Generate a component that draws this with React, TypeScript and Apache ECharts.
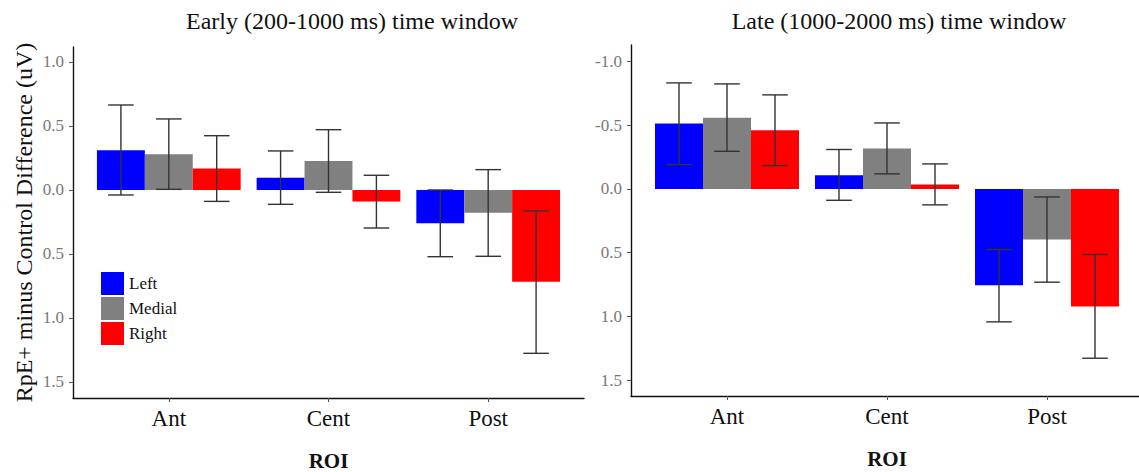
import React, { useEffect, useRef } from "react";
import * as echarts from "echarts";

const roiLabels = ["Ant", "Cent", "Post"];
const groups = ["Left", "Medial", "Right"];
const groupColors = ["#0000FF", "#808080", "#FF0000"];
const yTickValues = [-1, -0.5, 0, 0.5, 1, 1.5];

// Early (200-1000 ms): means per group across Ant, Cent, Post
const earlyLeft = [-0.31, -0.096, 0.26];
const earlyMedial = [-0.279, -0.227, 0.177];
const earlyRight = [-0.167, 0.089, 0.716];
const earlyLeftLo = [-0.664, -0.305, 0.0];
const earlyLeftHi = [0.039, 0.112, 0.521];
const earlyMedialLo = [-0.555, -0.471, -0.159];
const earlyMedialHi = [-0.005, 0.018, 0.518];
const earlyRightLo = [-0.424, -0.115, 0.164];
const earlyRightHi = [0.089, 0.297, 1.276];

// Late (1000-2000 ms)
const lateLeft = [-0.513, -0.107, 0.755];
const lateMedial = [-0.557, -0.316, 0.397];
const lateRight = [-0.46, -0.034, 0.922];
const lateLeftLo = [-0.831, -0.309, 0.475];
const lateLeftHi = [-0.191, 0.089, 1.042];
const lateMedialLo = [-0.823, -0.517, 0.063];
const lateMedialHi = [-0.295, -0.118, 0.731];
const lateRightLo = [-0.737, -0.196, 0.514];
const lateRightHi = [-0.183, 0.125, 1.327];

const FONT = "'Liberation Serif', 'Times New Roman', serif";
const offsets = [-0.3, 0, 0.3];
const BAR_HALF = 0.15;
const CAP_HALF = 0.08;

function barSeries(name: string, k: number, values: number[], axisIdx: number) {
  return {
    type: "custom",
    name,
    xAxisIndex: axisIdx,
    yAxisIndex: axisIdx,
    color: groupColors[k],
    itemStyle: { color: groupColors[k] },
    data: values.map((v, i) => [i + 1, v]),
    renderItem: (params: any, api: any) => {
      const x = api.value(0) + offsets[k];
      const v = api.value(1);
      const p0 = api.coord([x - BAR_HALF, 0]);
      const p1 = api.coord([x + BAR_HALF, v]);
      return {
        type: "rect",
        shape: {
          x: Math.min(p0[0], p1[0]),
          y: Math.min(p0[1], p1[1]),
          width: Math.abs(p1[0] - p0[0]),
          height: Math.abs(p1[1] - p0[1]),
        },
        style: { fill: groupColors[k] },
      };
    },
    z: 2,
  };
}

function errSeries(k: number, lo: number[], hi: number[], axisIdx: number) {
  return {
    type: "custom",
    name: "err" + axisIdx + "_" + k,
    xAxisIndex: axisIdx,
    yAxisIndex: axisIdx,
    data: lo.map((l, i) => [i + 1, l, hi[i]]),
    renderItem: (params: any, api: any) => {
      const x = api.value(0) + offsets[k];
      const a = api.coord([x, api.value(1)]);
      const b = api.coord([x, api.value(2)]);
      const al = api.coord([x - CAP_HALF, api.value(1)]);
      const ar = api.coord([x + CAP_HALF, api.value(1)]);
      const bl = api.coord([x - CAP_HALF, api.value(2)]);
      const br = api.coord([x + CAP_HALF, api.value(2)]);
      const style = { stroke: "#333333", lineWidth: 1.4 };
      return {
        type: "group",
        children: [
          { type: "line", shape: { x1: a[0], y1: a[1], x2: b[0], y2: b[1] }, style },
          { type: "line", shape: { x1: al[0], y1: al[1], x2: ar[0], y2: ar[1] }, style },
          { type: "line", shape: { x1: bl[0], y1: bl[1], x2: br[0], y2: br[1] }, style },
        ],
      };
    },
    z: 3,
  };
}

function xAxisCfg(gridIndex: number) {
  return {
    type: "value",
    gridIndex,
    min: 0.4,
    max: 3.6,
    axisLine: { show: true, onZero: false, lineStyle: { color: "#111", width: 1.4 } },
    axisTick: { show: true, customValues: [1, 2, 3], length: 4, lineStyle: { color: "#555" } },
    axisLabel: {
      customValues: [1, 2, 3],
      formatter: (v: number) => roiLabels[Math.round(v) - 1],
      fontSize: 23,
      color: "#111",
      fontFamily: FONT,
      margin: 9,
    },
    splitLine: { show: false },
    name: "ROI",
    nameLocation: "middle",
    nameGap: 52,
    nameTextStyle: { fontSize: 21, fontWeight: "bold", color: "#111", fontFamily: FONT },
  };
}

function yAxisCfg(gridIndex: number, min: number, max: number, absLabels: boolean, withName: boolean) {
  return {
    type: "value",
    gridIndex,
    inverse: true,
    min,
    max,
    axisLine: { show: true, onZero: false, lineStyle: { color: "#111", width: 1.4 } },
    axisTick: { show: true, customValues: yTickValues, length: 4, lineStyle: { color: "#555" } },
    axisLabel: {
      customValues: yTickValues,
      formatter: (v: number) => (absLabels ? Math.abs(v).toFixed(1) : v.toFixed(1)),
      fontSize: 17,
      color: "#777777",
      fontFamily: FONT,
      margin: 9,
    },
    splitLine: { show: false },
    name: withName ? "RpE+ minus Control Difference (uV)" : "",
    nameLocation: "middle",
    nameRotate: 90,
    nameGap: 37,
    nameTextStyle: { fontSize: 24, color: "#111", fontFamily: FONT },
  };
}

export default function App() {
  const ref = useRef<HTMLDivElement>(null);
  useEffect(() => {
    if (!ref.current) return;
    const chart = echarts.init(ref.current, null, { renderer: "svg" });
    const option: any = {
      animation: false,
      backgroundColor: "#ffffff",
      title: [
        {
          text: "Early (200-1000 ms) time window",
          left: 347,
          top: 4,
          textAlign: "center",
          textStyle: { fontSize: 24, fontWeight: "normal", color: "#111", fontFamily: FONT },
        },
        {
          text: "Late (1000-2000 ms) time window",
          left: 894,
          top: 4,
          textAlign: "center",
          textStyle: { fontSize: 24, fontWeight: "normal", color: "#111", fontFamily: FONT },
        },
      ],
      legend: {
        data: groups,
        orient: "vertical",
        left: 101,
        top: 272,
        padding: 0,
        itemWidth: 23,
        itemHeight: 23,
        itemGap: 2,
        icon: "rect",
        selectedMode: false,
        textStyle: { fontSize: 17, color: "#111", fontFamily: FONT },
      },
      grid: [
        { left: 73, top: 47, width: 511, height: 351, outerBoundsMode: "none", containLabel: false },
        { left: 631, top: 45, width: 512, height: 351, outerBoundsMode: "none", containLabel: false },
      ],
      xAxis: [xAxisCfg(0), xAxisCfg(1)],
      yAxis: [
        yAxisCfg(0, -1.117, 1.625, true, true),
        yAxisCfg(1, -1.128, 1.623, false, false),
      ],
      series: [
        barSeries("Left", 0, earlyLeft, 0),
        barSeries("Medial", 1, earlyMedial, 0),
        barSeries("Right", 2, earlyRight, 0),
        errSeries(0, earlyLeftLo, earlyLeftHi, 0),
        errSeries(1, earlyMedialLo, earlyMedialHi, 0),
        errSeries(2, earlyRightLo, earlyRightHi, 0),
        barSeries("Left", 0, lateLeft, 1),
        barSeries("Medial", 1, lateMedial, 1),
        barSeries("Right", 2, lateRight, 1),
        errSeries(0, lateLeftLo, lateLeftHi, 1),
        errSeries(1, lateMedialLo, lateMedialHi, 1),
        errSeries(2, lateRightLo, lateRightHi, 1),
      ],
    };
    chart.setOption(option);
    return () => chart.dispose();
  }, []);
  return (
    <div
      ref={ref}
      style={{ position: "fixed", left: 0, top: 0, width: 1139, height: 472, background: "#fff" }}
    />
  );
}
